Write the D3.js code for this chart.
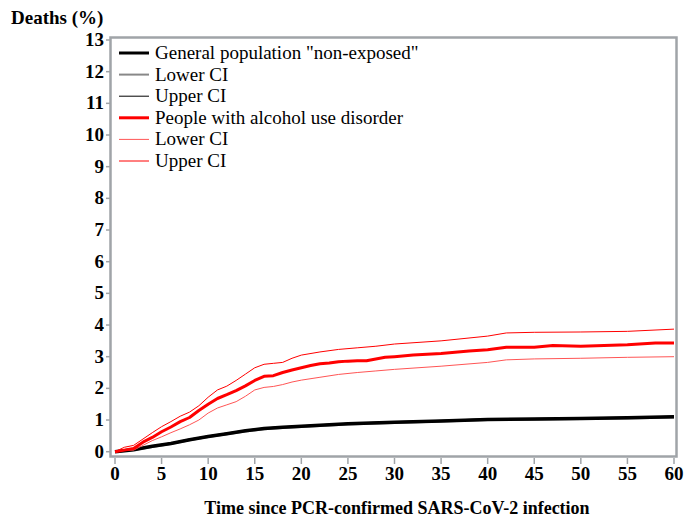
<!DOCTYPE html>
<html>
<head>
<meta charset="utf-8">
<script src="https://cdn.jsdelivr.net/npm/d3@7"></script>
<style>
  body { margin: 0; background: #fff; }
  svg text { font-family: "Times New Roman", Times, Tinos, "Nimbus Roman", "Liberation Serif", "DejaVu Serif", "Noto Serif", serif; }
</style>
</head>
<body>
<svg id="chart" width="685" height="521"></svg>
<script>
// days and cumulative deaths (%)
let aldDays  = [0, 1, 2, 3, 4, 5, 6, 7, 8, 9, 10, 11, 12, 13, 14, 15, 16, 17, 18, 19, 20, 21, 22, 23, 24, 25, 26, 27, 28, 29, 30, 32, 35, 38, 40, 42, 45, 47, 50, 55, 58, 60];
let aldMain  = [0, 0.05, 0.1, 0.3, 0.45, 0.63, 0.78, 0.95, 1.08, 1.3, 1.5, 1.68, 1.8, 1.93, 2.08, 2.25, 2.38, 2.4, 2.5, 2.58, 2.65, 2.72, 2.78, 2.8, 2.84, 2.86, 2.87, 2.87, 2.93, 2.98, 3.0, 3.05, 3.1, 3.18, 3.22, 3.3, 3.3, 3.35, 3.33, 3.38, 3.43, 3.43];

let aldCiDays = [0, 1, 2, 3, 4, 5, 6, 7, 8, 9, 10, 11, 12, 13, 14, 15, 16, 17, 18, 19, 20, 22, 24, 26, 28, 30, 35, 40, 42, 45, 50, 55, 60];
let aldUpper = [0, 0.14, 0.2, 0.4, 0.6, 0.79, 0.95, 1.12, 1.25, 1.45, 1.72, 1.95, 2.07, 2.25, 2.45, 2.65, 2.76, 2.79, 2.82, 2.95, 3.05, 3.15, 3.23, 3.28, 3.33, 3.4, 3.5, 3.65, 3.75, 3.77, 3.78, 3.8, 3.87];
let aldLower = [0, 0.05, 0.05, 0.2, 0.35, 0.47, 0.6, 0.72, 0.85, 1.0, 1.22, 1.38, 1.48, 1.58, 1.75, 1.95, 2.03, 2.06, 2.12, 2.2, 2.26, 2.35, 2.44, 2.5, 2.55, 2.6, 2.7, 2.82, 2.9, 2.93, 2.95, 2.98, 3.0];

let genDays  = [0, 2, 4, 6, 8, 10, 12, 14, 16, 18, 20, 25, 30, 35, 40, 45, 50, 55, 60];
let genMain  = [0, 0.06, 0.17, 0.26, 0.38, 0.48, 0.57, 0.66, 0.73, 0.77, 0.8, 0.88, 0.93, 0.97, 1.02, 1.03, 1.05, 1.07, 1.1];
let genLower = [0, 0.05, 0.15, 0.24, 0.36, 0.46, 0.55, 0.64, 0.71, 0.75, 0.78, 0.86, 0.91, 0.95, 1.0, 1.01, 1.03, 1.05, 1.08];
let genUpper = [0, 0.07, 0.19, 0.28, 0.4, 0.5, 0.59, 0.68, 0.75, 0.79, 0.82, 0.9, 0.95, 0.99, 1.04, 1.05, 1.07, 1.09, 1.12];

let xTicks = d3.range(0, 61, 5);
let yTicks = d3.range(0, 14, 1);

let legendLabels = ['General population "non-exposed"', "Lower CI", "Upper CI", "People with alcohol use disorder", "Lower CI", "Upper CI"];

let series = [
  {vals: genLower, x: genDays, color: "#888", width: 2},
  {vals: genUpper, x: genDays, color: "#000", width: 1},
  {vals: genMain, x: genDays, color: "#000", width: 3.5},
  {vals: aldLower, x: aldCiDays, color: "#ff5555", width: 1},
  {vals: aldUpper, x: aldCiDays, color: "#ff0000", width: 1},
  {vals: aldMain, x: aldDays, color: "#ff0000", width: 3}
];
let legendStyles = [
  {color: "#000", width: 3},
  {color: "#888", width: 2},
  {color: "#000", width: 1},
  {color: "#ff0000", width: 3},
  {color: "#ff5555", width: 1},
  {color: "#ff0000", width: 1}
];

let svg = d3.select("#chart");
let x = d3.scaleLinear().domain([0, 60]).range([115, 674]);
let y = d3.scaleLinear().domain([0, 13]).range([451.7, 40]);

// frame
svg.append("rect").attr("x", 110.5).attr("y", 37.5).attr("width", 566).attr("height", 419)
  .attr("fill", "none").attr("stroke", "#a0a4a8").attr("stroke-width", 2.5);

// y axis ticks and labels
svg.selectAll(".ytick").data(yTicks).enter().append("line")
  .attr("x1", 106).attr("x2", 110).attr("y1", d => y(d)).attr("y2", d => y(d))
  .attr("stroke", "#a0a4a8").attr("stroke-width", 1.5);
svg.selectAll(".ylab").data(yTicks).enter().append("text")
  .attr("x", 104).attr("y", d => y(d) + 6).attr("text-anchor", "end")
  .attr("font-size", 19).attr("font-weight", "bold").text(d => d);

// x axis ticks and labels
svg.selectAll(".xtick").data(xTicks).enter().append("line")
  .attr("x1", d => x(d)).attr("x2", d => x(d)).attr("y1", 458).attr("y2", 464)
  .attr("stroke", "#a0a4a8").attr("stroke-width", 1.5);
svg.selectAll(".xlab").data(xTicks).enter().append("text")
  .attr("x", d => x(d)).attr("y", 480).attr("text-anchor", "middle")
  .attr("font-size", 19).attr("font-weight", "bold").text(d => d);

svg.append("text").attr("x", 397).attr("y", 514).attr("text-anchor", "middle")
  .attr("font-size", 18).attr("font-weight", "bold").text("Time since PCR-confirmed SARS-CoV-2 infection");
svg.append("text").attr("x", 11).attr("y", 24)
  .attr("font-size", 19).attr("font-weight", "bold").text("Deaths (%)");

// lines
let line = d3.line().x(d => x(d[0])).y(d => y(d[1]));
series.forEach(function(s){
  svg.append("path").datum(d3.zip(s.x, s.vals)).attr("d", line)
    .attr("fill", "none").attr("stroke", s.color).attr("stroke-width", s.width)
    .attr("stroke-linejoin", "round");
});

// legend
legendLabels.forEach(function(lab, i){
  let ly = 53 + i * 21.6;
  svg.append("line").attr("x1", 119).attr("x2", 149).attr("y1", ly).attr("y2", ly)
    .attr("stroke", legendStyles[i].color).attr("stroke-width", legendStyles[i].width);
  svg.append("text").attr("x", 155).attr("y", ly + 6).attr("font-size", 19).text(lab);
});
</script>
</body>
</html>
